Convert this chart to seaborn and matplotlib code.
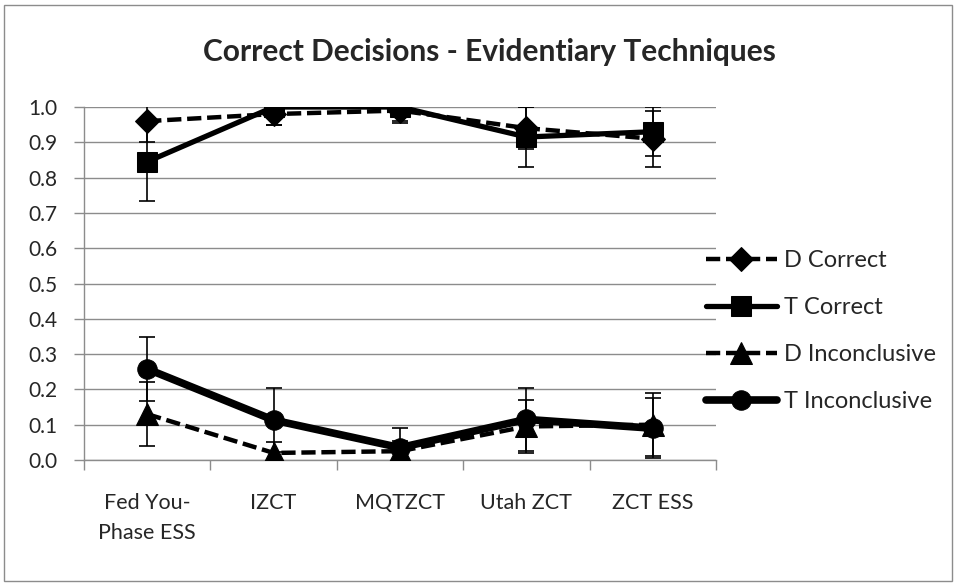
import numpy as np
import pandas as pd
import matplotlib
matplotlib.use("Agg")
import matplotlib.pyplot as plt
import seaborn as sns

# chart data
techniques = ["Fed You-\nPhase ESS", "IZCT", "MQTZCT", "Utah ZCT", "ZCT ESS"]
d_correct = [0.96, 0.98, 0.99, 0.94, 0.91]
d_correct_err = [0.06, 0.03, 0.03, 0.06, 0.08]
t_correct = [0.845, 1.00, 1.00, 0.915, 0.93]
t_correct_err = [0.11, 0.05, 0.045, 0.085, 0.07]
d_incon = [0.13, 0.02, 0.025, 0.095, 0.10]
d_incon_err = [0.09, 0.03, 0.03, 0.075, 0.09]
t_incon = [0.258, 0.113, 0.035, 0.115, 0.09]
t_incon_err = [0.09, 0.09, 0.055, 0.09, 0.085]

sns.set_style("white")
plt.rcParams['font.family'] = ['Lato', 'DejaVu Sans']

fig = plt.figure(figsize=(9.57, 5.85), dpi=100)
ax = fig.add_axes([84 / 957, 1 - 460 / 585, (716 - 84) / 957, (460 - 107) / 585])

# outer chart border
fig.patches.append(plt.Rectangle((4 / 957, 4 / 585), 948 / 957, 576 / 585, transform=fig.transFigure,
                                 fill=False, edgecolor="#8c8c8c", linewidth=1))

x = np.arange(len(techniques))
dash = (0, (3.2, 1.3))
series = [
    ("D Correct", d_correct, d_correct_err, "D", dash, 3.2, 12),
    ("T Correct", t_correct, t_correct_err, "s", "-", 3.8, 14),
    ("D Inconclusive", d_incon, d_incon_err, "^", dash, 3.2, 16),
    ("T Inconclusive", t_incon, t_incon_err, "o", "-", 5.5, 14),
]
for name, vals, errs, mk, ls, lw, ms in series:
    ax.errorbar(x, vals, yerr=errs, fmt="none", ecolor="black", elinewidth=1.2, capsize=5.5, capthick=1.2, zorder=2)
    sns.lineplot(x=x, y=vals, ax=ax, color="black", marker=mk, markersize=ms, linewidth=lw,
                 linestyle=ls, markeredgecolor="black", label=name, zorder=3)

ax.set_xlim(-0.5, len(techniques) - 0.5)
ax.set_ylim(0, 1.0)
ax.set_yticks(np.arange(0, 1.01, 0.1))
ax.set_yticklabels([f"{v:.1f}" for v in np.arange(0, 1.01, 0.1)], fontsize=15)
ax.set_xticks(x)
ax.set_xticklabels(techniques, fontsize=15.5, linespacing=1.6)
ax.set_xticks(np.arange(-0.5, len(techniques), 1), minor=True)
ax.tick_params(axis="x", which="major", length=0, pad=24)
ax.tick_params(axis="x", which="minor", length=7, color="#8c8c8c", width=1, direction="out", bottom=True)
ax.tick_params(axis="y", length=7, color="#8c8c8c", width=1, direction="out", left=True, pad=12)
ax.grid(axis="y", color="#8c8c8c", linewidth=1)
ax.set_axisbelow(True)
for s in ["top", "right"]:
    ax.spines[s].set_visible(False)
for s in ["left", "bottom"]:
    ax.spines[s].set_color("#8c8c8c")
    ax.spines[s].set_linewidth(1)
ax.set_xlabel("")
ax.set_ylabel("")

fig.text(489 / 957, 1 - 52 / 585, "Correct Decisions - Evidentiary Techniques", ha="center", va="center",
         fontsize=21.5, fontweight="bold")

ax.legend(loc="center left", bbox_to_anchor=(706 / 957, 1 - 331 / 585), bbox_transform=fig.transFigure,
          frameon=False, fontsize=17, handlelength=3.0, labelspacing=1.1, handletextpad=0.3, borderaxespad=0,
          borderpad=0)

fig.savefig("out.png", dpi=100, facecolor="white")
